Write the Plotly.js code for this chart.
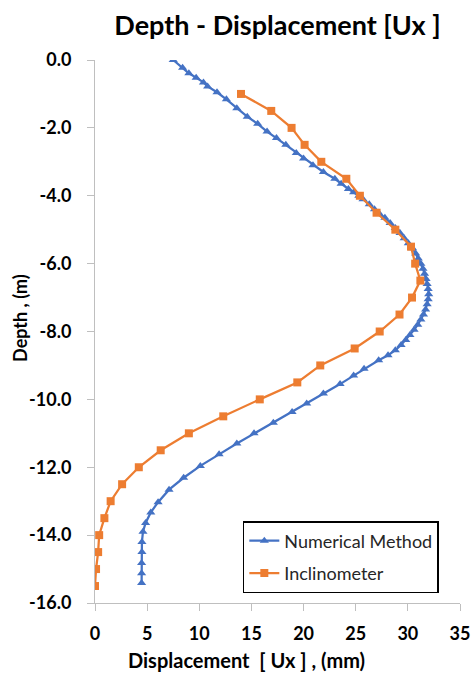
<!DOCTYPE html>
<html>
<head>
<meta charset="utf-8">
<script src="https://cdn.plot.ly/plotly-3.0.1.min.js"></script>
<style>html,body{margin:0;padding:0;background:#fff;}#chart{width:472px;height:673px;}</style>
</head>
<body>
<div id="chart"></div>
<script>
// Numerical Method: displacement (mm) vs depth (m)
const numDepth = [0, -0.23, -0.39, -0.52, -0.66, -0.78, -0.95, -1.16, -1.42, -1.67, -1.88, -2.11, -2.3, -2.5, -2.74,
  -2.9, -3.1, -3.3, -3.5, -3.65, -3.8, -3.9, -4.0, -4.1, -4.25, -4.4,
  -4.5, -4.65, -4.8, -4.95, -5.1, -5.25, -5.4, -5.55, -5.7, -5.85, -6.0, -6.15, -6.3, -6.45, -6.6, -6.75, -6.9,
  -7.05, -7.2, -7.35, -7.5, -7.65, -7.8, -7.95, -8.1, -8.25, -8.4, -8.55, -8.7, -8.85,
  -9.1, -9.3, -9.55, -9.83, -10.12, -10.37, -10.69, -11.0, -11.3, -11.62, -11.96, -12.31, -12.66, -13.03, -13.33,
  -13.64, -13.9, -14.2, -14.5, -14.82, -15.12, -15.41];
const numDisp = [7.5, 8.4, 9.0, 9.7, 10.4, 10.8, 11.7, 12.6, 13.6, 14.6, 15.6, 16.5, 17.4, 18.3, 19.3,
  20.0, 20.9, 21.9, 23.0, 23.6, 24.3, 24.8, 25.3, 25.7, 26.3, 26.8,
  27.2, 27.8, 28.3, 28.8, 29.25, 29.65, 30.05, 30.45, 30.75, 31.0, 31.25, 31.45, 31.6, 31.75, 31.85, 31.95, 32.0,
  31.95, 31.85, 31.7, 31.5, 31.25, 30.95, 30.6, 30.2, 29.8, 29.35, 28.8, 28.1, 27.2,
  25.8, 24.8, 23.5, 21.9, 20.3, 18.9, 17.1, 15.25, 13.6, 11.9, 10.1, 8.5, 7.1, 6.05, 5.35,
  4.85, 4.6, 4.5, 4.5, 4.47, 4.47, 4.47];

// Inclinometer
const incDepth = [-1.0, -1.5, -2.0, -2.5, -3.0, -3.5, -4.0, -4.5, -5.0, -5.5, -6.0, -6.5, -7.0, -7.5, -8.0,
  -8.5, -9.0, -9.5, -10.0, -10.5, -11.0, -11.5, -12.0, -12.5, -13.0, -13.5, -14.0, -14.5, -15.0, -15.5];
const incDisp = [14.0, 16.9, 18.85, 20.1, 21.7, 24.1, 25.4, 27.0, 28.8, 30.3, 30.7, 31.2, 30.4, 29.2, 27.3,
  24.9, 21.6, 19.4, 15.8, 12.3, 9.0, 6.3, 4.2, 2.6, 1.5, 0.9, 0.4, 0.3, 0.1, 0.0];

const yTicks = [0, -2, -4, -6, -8, -10, -12, -14, -16];
const xTicks = [0, 5, 10, 15, 20, 25, 30, 35];

const FONT = 'Lato, "Open Sans", sans-serif';

const traces = [
  {
    x: numDisp, y: numDepth, name: 'Numerical Method', type: 'scatter', mode: 'lines+markers',
    line: {color: '#4472C4', width: 2.25},
    marker: {symbol: 'triangle-up', size: 8, color: '#4472C4'},
    legendgroup: 'a'
  },
  {
    x: incDisp, y: incDepth, name: 'Inclinometer', type: 'scatter', mode: 'lines+markers',
    line: {color: '#ED7D31', width: 2.25},
    marker: {symbol: 'square', size: 8, color: '#ED7D31'},
    legendgroup: 'b'
  }
];

const layout = {
  width: 472, height: 673,
  margin: {l: 95, r: 12, t: 60, b: 70},
  paper_bgcolor: '#ffffff', plot_bgcolor: '#ffffff',
  font: {family: FONT, color: '#000000'},
  title: {
    text: '<b>Depth - Displacement [Ux ]</b>',
    font: {family: FONT, size: 27, color: '#000000'},
    xref: 'paper', x: 0.5, xanchor: 'center',
    yref: 'container', y: 0.962, yanchor: 'middle'
  },
  xaxis: {
    range: [0, 35], tickvals: xTicks, ticktext: xTicks.map(String),
    showgrid: false, zeroline: false,
    showline: true, linecolor: '#bfbfbf', linewidth: 1,
    ticks: 'outside', ticklen: 7, tickcolor: '#bfbfbf', tickwidth: 1,
    tickfont: {family: FONT, size: 18, color: '#000000', weight: 'bold'},
    ticklabelstandoff: 7,
    fixedrange: true
  },
  yaxis: {
    range: [-16, 0], tickvals: yTicks, ticktext: yTicks.map(v => v.toFixed(1)),
    showgrid: false, zeroline: false,
    showline: true, linecolor: '#bfbfbf', linewidth: 1,
    ticks: 'outside', ticklen: 7, tickcolor: '#bfbfbf', tickwidth: 1,
    tickfont: {family: FONT, size: 18, color: '#000000', weight: 'bold'},
    ticklabelstandoff: 12,
    fixedrange: true
  },
  showlegend: true,
  legend: {
    x: 0.405, y: 0.151, xanchor: 'left', yanchor: 'top',
    bordercolor: '#000000', borderwidth: 1.5, bgcolor: '#ffffff',
    font: {family: FONT, size: 18, color: '#262626'},
    itemwidth: 30,
    traceorder: 'grouped', tracegroupgap: 6
  },
  annotations: [
    {
      text: '<b>Depth , (m)</b>', textangle: -90,
      xref: 'paper', yref: 'paper', x: -0.2055, y: 0.525,
      xanchor: 'center', yanchor: 'middle', showarrow: false,
      font: {family: FONT, size: 18, color: '#000000'}
    },
    {
      text: '<b>Displacement  [ Ux ] , (mm)</b>',
      xref: 'paper', yref: 'paper', x: 0.415, y: -0.105,
      xanchor: 'center', yanchor: 'middle', showarrow: false,
      font: {family: FONT, size: 20, color: '#000000'}
    }
  ]
};

Plotly.newPlot('chart', traces, layout, {displayModeBar: false, staticPlot: true});
</script>
</body>
</html>
